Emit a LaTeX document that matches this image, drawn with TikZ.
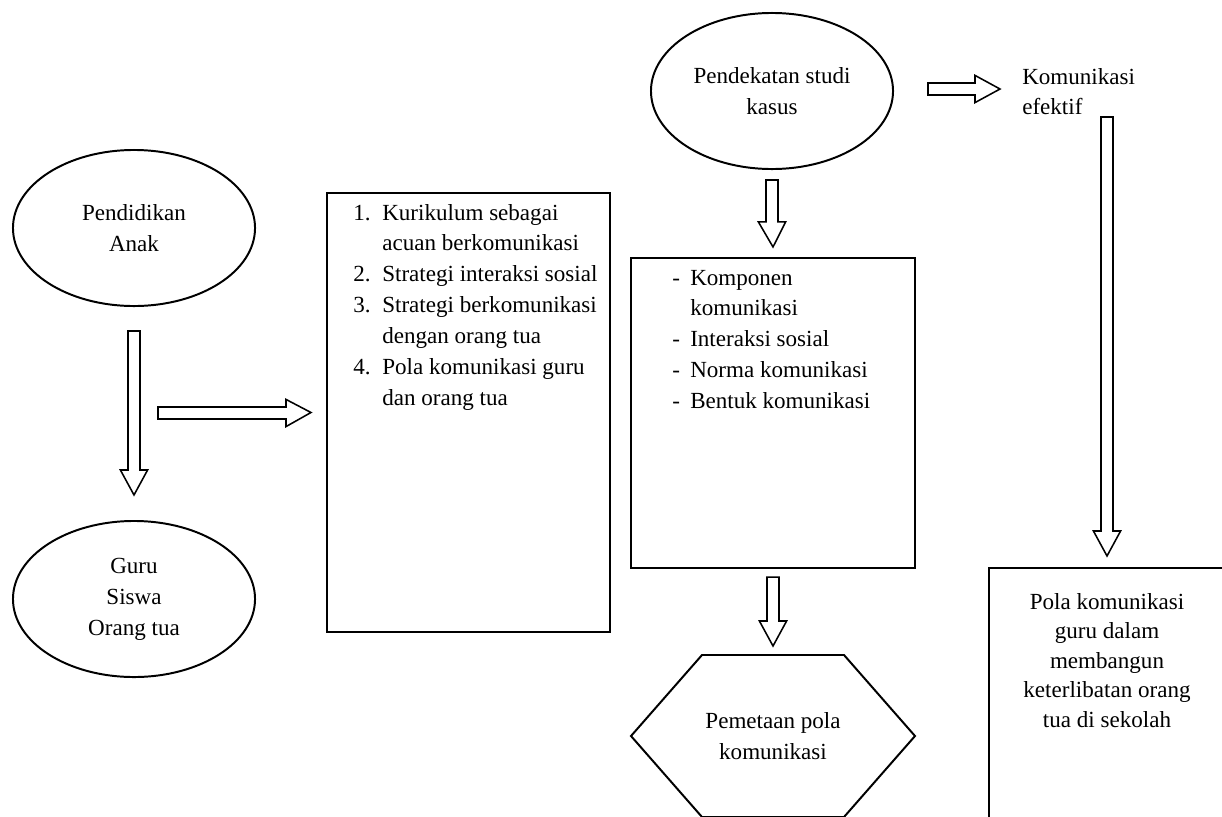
\documentclass[tikz,border=0pt]{standalone}
\usepackage{fontspec}
\setmainfont{Liberation Serif}
\usetikzlibrary{positioning,calc,shapes.geometric}

\begin{document}
\begin{tikzpicture}[
        x=0.025cm, y=-0.025cm,
        font=\fontsize{16.4}{22}\selectfont,
        oval/.style={
            draw,
            ellipse,
            line width=1.4pt,
            inner sep=1pt,
            minimum width=6.05cm,
            minimum height=3.9cm,
            align=center
        },
        block/.style={draw, rectangle, line width=1.4pt},
        daftar/.style={inner sep=0pt, anchor=base west},
        downarrow/.style={draw, line width=1.1pt, to path={
            let \p1=(\tikztostart), \p2=(\tikztotarget) in
            (\x1-0.15cm,\y1) -- (\x1+0.15cm,\y1) -- (\x1+0.15cm,\y2+0.625cm)
            -- (\x1+0.34cm,\y2+0.625cm) -- (\x2,\y2) -- (\x1-0.34cm,\y2+0.625cm)
            -- (\x1-0.15cm,\y2+0.625cm) -- cycle}},
        rightarrow/.style={draw, line width=1.1pt, to path={
            let \p1=(\tikztostart), \p2=(\tikztotarget) in
            (\x1,\y1+0.15cm) -- (\x1,\y1-0.15cm) -- (\x2-0.625cm,\y1-0.15cm)
            -- (\x2-0.625cm,\y1-0.34cm) -- (\x2,\y2) -- (\x2-0.625cm,\y1+0.34cm)
            -- (\x2-0.625cm,\y1+0.15cm) -- cycle}}
    ]

    \useasboundingbox (0,0) rectangle (1222,816);

    % Kolom kiri
    \node[oval] (anak) at (134,228) {Pendidikan\\Anak};
    \node[oval] (guru) at (134,599) {Guru\\Siswa\\Orang tua};

    \node[block, minimum width=7.075cm, minimum height=10.975cm] (strat) at (468.5,412.5) {};
    \node[daftar] (strat-isi) at (353,220) {\begin{tabular}[t]{@{}p{0.725cm}@{}l@{}}
        1. & Kurikulum sebagai\\
           & acuan berkomunikasi\\
        2. & Strategi interaksi sosial\\
        3. & Strategi berkomunikasi\\
           & dengan orang tua\\
        4. & Pola komunikasi guru\\
           & dan orang tua
    \end{tabular}};

    % Kolom tengah
    \node[oval] (pend) at (772,91) {Pendekatan studi\\kasus};

    \node[block, minimum width=7.1cm, minimum height=7.75cm] (komp) at (773,413) {};
    \node[daftar] (komp-isi) at (672,285) {\begin{tabular}[t]{@{}p{0.45cm}@{}l@{}}
        - & Komponen\\
          & komunikasi\\
        - & Interaksi sosial\\
        - & Norma komunikasi\\
        - & Bentuk komunikasi
    \end{tabular}};

    \node[align=center] (petak) at (773,736) {Pemetaan pola\\komunikasi};
    \draw[line width=1.4pt] ($(petak)+(-142,0)$) -- ($(petak)+(-71,-81)$) -- ($(petak)+(71,-81)$)
        -- ($(petak)+(142,0)$) -- ($(petak)+(71,81)$) -- ($(petak)+(-71,81)$) -- cycle;

    % Kolom kanan
    \node[daftar] (efek) at (1022,84) {\begin{tabular}[t]{@{}l@{}}Komunikasi\\efektif\end{tabular}};

    \node[block, minimum width=5.9cm, minimum height=6.8cm] (pola) at (1107,704) {};
    \node[inner sep=0pt, anchor=base] (pola-isi) at (1107,609) {\fontsize{16.4}{21}\selectfont
        \begin{tabular}[t]{@{}c@{}}
        Pola komunikasi\\
        guru dalam\\
        membangun\\
        keterlibatan orang\\
        tua di sekolah
    \end{tabular}};

    % Panah
    \coordinate (p1a) at ($(anak.south)+(0,24)$);
    \coordinate (p1b) at ($(guru.north)+(0,-25)$);
    \coordinate (p2a) at (158,413);
    \coordinate (p2b) at ($(strat.west)+(-15,0)$);
    \coordinate (p3a) at ($(pend.south)+(0,10)$);
    \coordinate (p3b) at ($(komp.north)+(0,-10)$);
    \coordinate (p4a) at ($(komp.south)+(0,8)$);
    \coordinate (p4b) at ($(petak)+(0,-90)$);
    \coordinate (p5a) at (928,89);
    \coordinate (p5b) at (1000,89);
    \coordinate (p6a) at (1107,117);
    \coordinate (p6b) at ($(pola.north)+(0,-11)$);

    \draw[downarrow] (p1a) to (p1b);
    \draw[rightarrow] (p2a) to (p2b);
    \draw[downarrow] (p3a) to (p3b);
    \draw[downarrow] (p4a) to (p4b);
    \draw[rightarrow] (p5a) to (p5b);
    \draw[downarrow] (p6a) to (p6b);

\end{tikzpicture}
\end{document}
